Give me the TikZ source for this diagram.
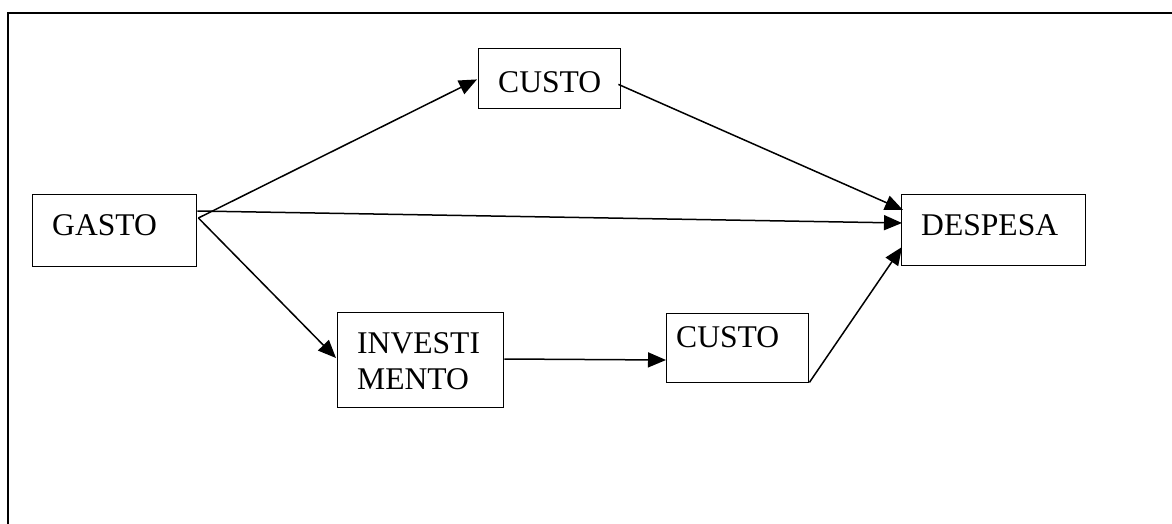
\documentclass[tikz,border=0pt]{standalone}
\usepackage{fontspec}
\setmainfont{Liberation Serif}
\usetikzlibrary{arrows.meta,calc}
\begin{document}
\begin{tikzpicture}[x=1pt,y=-1pt,
  box/.style={draw, line width=1.4pt, rectangle, inner sep=0pt, anchor=north west},
  lbl/.style={anchor=base west, inner sep=0pt, font=\fontsize{31.6}{36}\selectfont},
  link/.style={line width=1.5pt, -{Triangle[length=18pt,width=15pt]}},
  plain/.style={line width=1.5pt}]
\useasboundingbox (0,0) rectangle (1172,524);
% outer frame (top and left edges)
\draw[line width=2pt] (8,524) -- (8,13) -- (1172,13);

% boxes
\node[box, minimum width=164pt, minimum height=72pt] (gasto)   at (32,194)  {};
\node[box, minimum width=142pt, minimum height=60pt] (custoa)  at (478,48)  {};
\node[box, minimum width=184pt, minimum height=71pt] (despesa) at (901,194) {};
\node[box, minimum width=166pt, minimum height=95pt] (invest)  at (337,312) {};
\node[box, minimum width=142pt, minimum height=69pt] (custob)  at (666,313) {};

% labels
\node[lbl] (gastotxt)   at (52,235)  {GASTO};
\node[lbl] (custoatxt)  at (498,93)  {CUSTO};
\node[lbl] (despesatxt) at (921,235) {DESPESA};
\node[lbl, align=left] (investtxt) at (357,389) {INVESTI\\MENTO};
\node[lbl] (custobtxt)  at (676,347) {CUSTO};

% connectors
\draw[link] ($(gasto.north east)+(1,24)$) -- ($(custoa.south west)+(-1,-30)$);
\draw[link] ($(gasto.north east)+(0,17)$) -- ($(despesa.north west)+(1,29)$);
\draw[link] ($(gasto.north east)+(1,24)$) -- ($(invest.north west)+(-1,46)$);
\draw[link] ($(custoa.south east)+(-3,-25)$) -- ($(despesa.north west)+(2,16)$);
\draw[link] ($(invest.north east)+(0,47)$) -- ($(custob.north west)+(0,47)$);
\draw[link] ($(custob.south east)+(0,-1)$) -- ($(despesa.north west)+(1,53)$);
\end{tikzpicture}
\end{document}
